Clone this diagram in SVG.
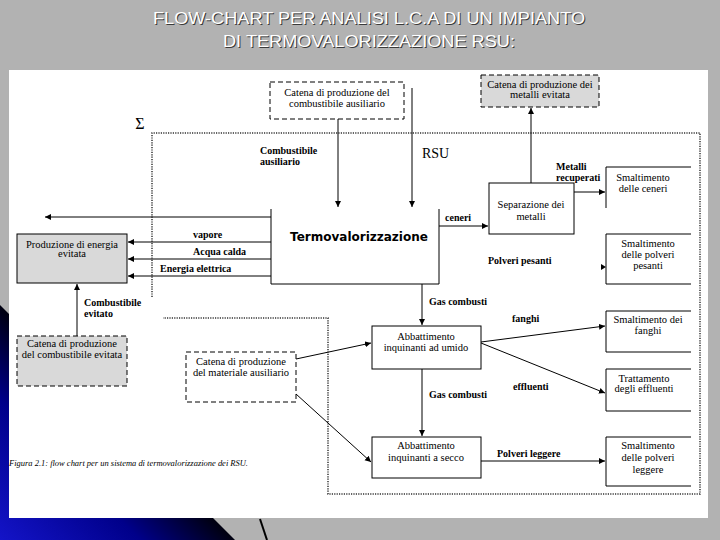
<svg xmlns="http://www.w3.org/2000/svg" width="720" height="540" viewBox="0 0 720 540" font-family="'Liberation Serif', 'Times New Roman', serif">
<defs>
<linearGradient id="blue" gradientUnits="userSpaceOnUse" x1="0" y1="540" x2="117" y2="423">
<stop offset="0" stop-color="#1414c8"/>
<stop offset="0.6" stop-color="#00008a"/>
<stop offset="1" stop-color="#000010"/>
</linearGradient>
<marker id="ah" markerUnits="userSpaceOnUse" markerWidth="7" markerHeight="7" refX="6" refY="3" orient="auto">
<path d="M0,0 L6,3 L0,6 Z" fill="#000"/>
</marker>
<style>
.title{font-family:'Liberation Sans',Arial,sans-serif;font-size:16px;fill:#fff;text-anchor:middle}
.shadow{font-family:'Liberation Sans',Arial,sans-serif;font-size:16px;fill:#3a3a3a;text-anchor:middle}
.t{font-size:10.5px;fill:#000;text-anchor:middle}
.b{font-size:10px;font-weight:bold;fill:#000}
.box{fill:#fff;stroke:#000;stroke-width:1}
.gbox{fill:#d9d9d9;stroke:#000;stroke-width:1}
.dash{stroke-dasharray:5 3}
.open{fill:none;stroke:#000;stroke-width:1}
.edge{fill:none;stroke:#000;stroke-width:1;marker-end:url(#ah)}
.dot{fill:none;stroke:#333;stroke-width:1.5;stroke-dasharray:1.2 1.2}
</style>
</defs>
<rect x="0" y="0" width="720" height="540" fill="#b2b2b2"/>
<path d="M0,305 L235,540 L0,540 Z" fill="url(#blue)"/>
<line x1="260" y1="519" x2="267" y2="540" stroke="#000" stroke-width="2"/>
<rect x="9" y="70" width="699" height="448" fill="#fff"/>

<g id="title">
<text class="shadow" x="370" y="25" textLength="432" lengthAdjust="spacingAndGlyphs">FLOW-CHART PER ANALISI L.C.A DI UN IMPIANTO</text>
<text class="title" x="369" y="24" textLength="432" lengthAdjust="spacingAndGlyphs">FLOW-CHART PER ANALISI L.C.A DI UN IMPIANTO</text>
<text class="shadow" x="370" y="48" textLength="292" lengthAdjust="spacingAndGlyphs">DI TERMOVALORIZZAZIONE RSU:</text>
<text class="title" x="369" y="47" textLength="292" lengthAdjust="spacingAndGlyphs">DI TERMOVALORIZZAZIONE RSU:</text>
</g>

<g id="boundary">
<path class="dot" d="M152,297 V133 H700 V494 H328 V318 H163"/>
<text x="140" y="129" font-size="16" text-anchor="middle">Σ</text>
</g>

<g id="connectors">
<line class="edge" x1="338" y1="119" x2="338" y2="207"/>
<line class="edge" x1="412" y1="88" x2="412" y2="207"/>
<line class="edge" x1="531" y1="183" x2="531" y2="108"/>
<line class="edge" x1="574" y1="192" x2="605" y2="192"/>
<line class="edge" x1="439" y1="226" x2="488" y2="226"/>
<path d="M601,264 L606,267 L601,270 Z" fill="#000"/>
<line class="edge" x1="271" y1="217" x2="45" y2="217"/>
<line class="edge" x1="271" y1="242" x2="128" y2="242"/>
<line class="edge" x1="271" y1="259" x2="128" y2="259"/>
<line class="edge" x1="271" y1="276" x2="128" y2="276"/>
<line class="edge" x1="77" y1="336" x2="77" y2="284"/>
<line class="edge" x1="422" y1="284" x2="422" y2="325"/>
<line class="edge" x1="481" y1="342" x2="605" y2="326"/>
<line class="edge" x1="481" y1="343" x2="605" y2="393"/>
<line class="edge" x1="422" y1="369" x2="422" y2="436"/>
<line class="edge" x1="481" y1="461" x2="605" y2="461"/>
<line class="edge" x1="296" y1="359" x2="371" y2="343"/>
<line class="edge" x1="296" y1="394" x2="371" y2="462"/>
</g>

<g id="labels">
<text class="b" x="260" y="154">Combustibile</text>
<text class="b" x="260" y="165">ausiliario</text>
<text x="422" y="158" font-size="14">RSU</text>
<text class="b" x="556" y="170">Metalli</text>
<text class="b" x="556" y="181">recuperati</text>
<text class="b" x="445" y="221">ceneri</text>
<text class="b" x="488" y="264">Polveri pesanti</text>
<text class="b" x="193" y="238">vapore</text>
<text class="b" x="193" y="255">Acqua calda</text>
<text class="b" x="160" y="272">Energia elettrica</text>
<text class="b" x="84" y="306">Combustibile</text>
<text class="b" x="84" y="317">evitato</text>
<text class="b" x="429" y="305">Gas combusti</text>
<text class="b" x="512" y="322">fanghi</text>
<text class="b" x="513" y="390">effluenti</text>
<text class="b" x="429" y="398">Gas combusti</text>
<text class="b" x="497" y="457">Polveri leggere</text>
<text x="9" y="466" font-size="9" font-style="italic" textLength="239" lengthAdjust="spacingAndGlyphs">Figura 2.1: flow chart per un sistema di termovalorizzazione dei RSU.</text>
</g>

<g id="aux-chain">
<rect class="box dash" x="270" y="82" width="134" height="37"/>
<text class="t" x="337" y="95.5">Catena di produzione del</text>
<text class="t" x="337" y="106.5">combustibile ausiliario</text>
</g>
<g id="metal-chain">
<rect class="gbox dash" x="481" y="75" width="118" height="32"/>
<text class="t" x="540" y="88">Catena di produzione dei</text>
<text class="t" x="540" y="97.5">metalli evitata</text>
</g>
<g id="termo">
<path class="open" d="M271,209 V284 H439 V209"/>
<text x="359" y="241" font-family="'DejaVu Sans',sans-serif" font-size="12" font-weight="bold" text-anchor="middle">Termovalorizzazione</text>
</g>
<g id="separazione">
<rect class="box" x="489" y="183" width="85" height="51"/>
<text class="t" x="531" y="207.5">Separazione dei</text>
<text class="t" x="531" y="219.5">metalli</text>
</g>
<g id="smalt-ceneri">
<path class="open" d="M691,167 H606 V208"/>
<text class="t" x="643" y="180.5">Smaltimento</text>
<text class="t" x="643" y="191.5">delle ceneri</text>
</g>
<g id="smalt-polveri-pesanti">
<path class="open" d="M691,234 H606 V284 H691"/>
<text class="t" x="648" y="246.5">Smaltimento</text>
<text class="t" x="648" y="257.5">delle polveri</text>
<text class="t" x="648" y="268.5">pesanti</text>
</g>
<g id="energia-evitata">
<rect class="gbox" x="17" y="234" width="110" height="49"/>
<text class="t" x="72" y="247.5">Produzione di energia</text>
<text class="t" x="72" y="257">evitata</text>
</g>
<g id="comb-evitato-chain">
<rect class="gbox dash" x="17" y="336" width="110" height="50"/>
<text class="t" x="72" y="346.5">Catena di produzione</text>
<text class="t" x="72" y="358">del combustibile evitata</text>
</g>
<g id="materiale-chain">
<rect class="box dash" x="186" y="352" width="110" height="50"/>
<text class="t" x="241" y="364.5">Catena di produzione</text>
<text class="t" x="241" y="375.5">del materiale ausiliario</text>
</g>
<g id="abb-umido">
<rect class="box" x="372" y="326" width="109" height="43"/>
<text class="t" x="426" y="339.5">Abbattimento</text>
<text class="t" x="426" y="350.5">inquinanti ad umido</text>
</g>
<g id="smalt-fanghi">
<path class="open" d="M691,311 H606 V352 H691"/>
<text class="t" x="648" y="322.5">Smaltimento dei</text>
<text class="t" x="648" y="333.5">fanghi</text>
</g>
<g id="tratt-effluenti">
<path class="open" d="M691,369 H606 V411 H691"/>
<text class="t" x="644" y="381.5">Trattamento</text>
<text class="t" x="644" y="392">degli effluenti</text>
</g>
<g id="abb-secco">
<rect class="box" x="372" y="437" width="109" height="41"/>
<text class="t" x="426" y="448.5">Abbattimento</text>
<text class="t" x="426" y="460.5">inquinanti a secco</text>
</g>
<g id="smalt-polveri-leggere">
<path class="open" d="M691,437 H606 V486 H691"/>
<text class="t" x="648" y="448.5">Smaltimento</text>
<text class="t" x="648" y="460.5">delle polveri</text>
<text class="t" x="648" y="472.5">leggere</text>
</g>
</svg>
